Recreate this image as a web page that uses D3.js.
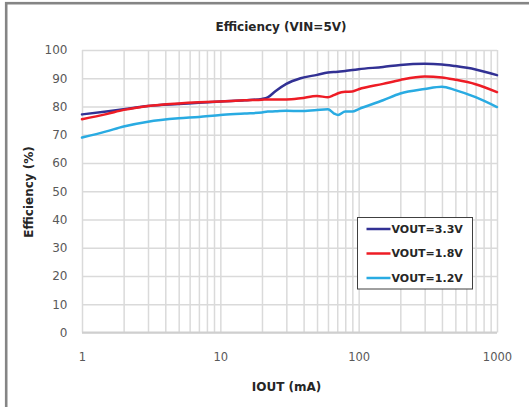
<!DOCTYPE html>
<html>
<head>
<meta charset="utf-8">
<script src="https://cdn.jsdelivr.net/npm/d3@7"></script>
<style>
  html, body { margin: 0; padding: 0; background: #fff; }
  svg { display: block; }
</style>
</head>
<body>
<svg id="chart" width="529" height="407"></svg>
<script>
const iout = [1, 1.5, 2, 3, 5, 7, 10, 15, 20, 22, 25, 30, 38, 50, 60, 66, 71, 80, 90, 100, 150, 200, 300, 400, 500, 700, 1000];
const vout33 = [77.2, 78.2, 79.0, 80.2, 80.9, 81.3, 81.8, 82.2, 82.7, 83.2, 85.4, 88.0, 90.0, 91.2, 92.0, 92.2, 92.3, 92.6, 92.9, 93.2, 94.0, 94.7, 95.1, 94.9, 94.3, 93.1, 91.1];
const vout18 = [75.5, 77.3, 78.8, 80.2, 81.1, 81.5, 81.8, 82.2, 82.4, 82.5, 82.5, 82.5, 82.9, 83.7, 83.3, 84.0, 84.7, 85.2, 85.3, 86.1, 88.0, 89.4, 90.6, 90.3, 89.5, 87.9, 85.1];
const vout12 = [69.0, 71.2, 72.9, 74.6, 75.8, 76.3, 77.0, 77.5, 77.9, 78.2, 78.3, 78.5, 78.4, 78.8, 79.0, 77.6, 77.0, 78.2, 78.2, 79.1, 82.2, 84.6, 86.2, 87.0, 85.8, 83.3, 79.8];
const seriesNames = ["VOUT=3.3V", "VOUT=1.8V", "VOUT=1.2V"];
const seriesColors = ["#323194", "#ee1c25", "#29abe2"];
const yTicks = [0, 10, 20, 30, 40, 50, 60, 70, 80, 90, 100];
const xLabelTicks = [1, 10, 100, 1000];
const xGridTicks = [1,2,3,4,5,6,7,8,9,10,20,30,40,50,60,70,80,90,100,200,300,400,500,600,700,800,900,1000];

const series = [vout33, vout18, vout12];

const svg = d3.select("#chart");
const L = 82, R = 497, T = 50, B = 332.5;

const x = d3.scaleLog().domain([1, 1000]).range([L, R]);
const y = d3.scaleLinear().domain([0, 100]).range([B, T]);

// outer frame
svg.append("rect").attr("x", 6.2).attr("y", 3.2).attr("width", 700).attr("height", 700)
  .attr("fill", "none").attr("stroke", "#858585").attr("stroke-width", 2.6);

// title
svg.append("text").attr("x", 281).attr("y", 27).attr("text-anchor", "middle")
  .attr("dominant-baseline", "central")
  .attr("font-family", "DejaVu Sans").attr("font-weight", "bold").attr("font-size", 12)
  .attr("fill", "#262626").text("Efficiency (VIN=5V)");

// vertical grid
const xg = svg.append("g").attr("transform", `translate(0,${B})`)
  .call(d3.axisBottom(x).tickValues(xGridTicks).tickSize(-(B - T)).tickFormat(""));
xg.select(".domain").remove();
xg.selectAll(".tick line").attr("stroke", "#dadada").attr("stroke-width", 1.5);

// horizontal grid + y labels
const yg = svg.append("g").attr("transform", `translate(${L},0)`)
  .call(d3.axisLeft(y).tickValues(yTicks).tickSize(-(R - L)).tickPadding(14.5));
yg.select(".domain").remove();
yg.selectAll(".tick line").attr("stroke", "#dadada").attr("stroke-width", 1.5);
yg.selectAll(".tick text").attr("font-family", "DejaVu Sans").attr("font-size", 12)
  .attr("fill", "#595959");

// bottom axis line
svg.append("line").attr("x1", L).attr("x2", R).attr("y1", B).attr("y2", B)
  .attr("stroke", "#cfcfcf").attr("stroke-width", 2);

// x labels
const xl = svg.append("g").attr("transform", `translate(0,${B})`)
  .call(d3.axisBottom(x).tickValues(xLabelTicks).tickSize(0).tickPadding(20).tickFormat(d3.format("d")));
xl.select(".domain").remove();
xl.selectAll(".tick text").attr("font-family", "DejaVu Sans").attr("font-size", 11.5)
  .attr("fill", "#595959");

// axis titles
svg.append("text").attr("x", 286.5).attr("y", 386.5).attr("text-anchor", "middle")
  .attr("dominant-baseline", "central")
  .attr("font-family", "DejaVu Sans").attr("font-weight", "bold").attr("font-size", 12)
  .attr("fill", "#262626").text("IOUT (mA)");
svg.append("text").attr("transform", "translate(28.7,192) rotate(-90)").attr("text-anchor", "middle")
  .attr("dominant-baseline", "central")
  .attr("font-family", "DejaVu Sans").attr("font-weight", "bold").attr("font-size", 12)
  .attr("fill", "#262626").text("Efficiency (%)");

// lines
const line = d3.line().x((d, i) => x(iout[i])).y(d => y(d)).curve(d3.curveMonotoneX);
series.forEach((vals, k) => {
  svg.append("path").datum(vals).attr("d", line).attr("fill", "none")
    .attr("stroke", seriesColors[k]).attr("stroke-width", 2.5)
    .attr("stroke-linejoin", "round").attr("stroke-linecap", "round");
});

// legend
const lg = svg.append("g");
lg.append("rect").attr("x", 357.5).attr("y", 217.5).attr("width", 115).attr("height", 71.5)
  .attr("fill", "#fff").attr("stroke", "#404040").attr("stroke-width", 1);
const ly = [229, 253.5, 278];
seriesNames.forEach((name, k) => {
  lg.append("line").attr("x1", 366.5).attr("x2", 390.5).attr("y1", ly[k]).attr("y2", ly[k])
    .attr("stroke", seriesColors[k]).attr("stroke-width", 2.5);
  lg.append("text").attr("x", 391.5).attr("y", ly[k]).attr("dominant-baseline", "central")
    .attr("font-family", "DejaVu Sans").attr("font-weight", "bold").attr("font-size", 11)
    .attr("fill", "#262626").text(name);
});
</script>
</body>
</html>
